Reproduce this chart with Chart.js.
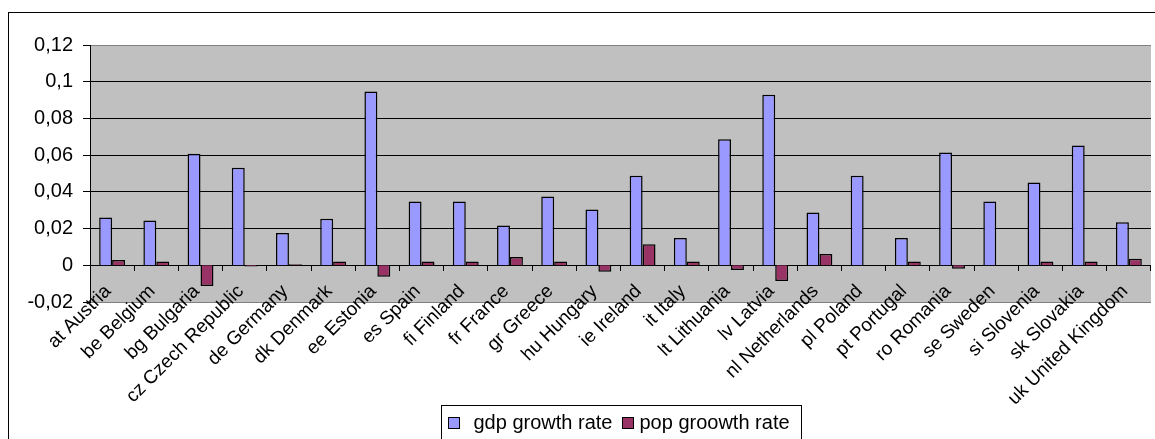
<!DOCTYPE html>
<html>
<head>
<meta charset="utf-8">
<script src="https://cdn.jsdelivr.net/npm/chart.js@4/dist/chart.umd.min.js"></script>
<style>
  html, body { margin: 0; padding: 0; background: #fff; }
  #wrap { width: 1155px; height: 439px; position: relative; }
</style>
</head>
<body>
<div id="wrap"><canvas id="c"></canvas></div>
<script>
// Countries along the category axis
const categories = [
  'at Austria', 'be Belgium', 'bg Bulgaria', 'cz Czech Republic', 'de Germany',
  'dk Denmark', 'ee Estonia', 'es Spain', 'fi Finland', 'fr France',
  'gr Greece', 'hu Hungary', 'ie Ireland', 'it Italy', 'lt Lithuania',
  'lv Latvia', 'nl Netherlands', 'pl Poland', 'pt Portugal', 'ro Romania',
  'se Sweden', 'si Slovenia', 'sk Slovakia', 'uk United Kingdom'
];

// Annual GDP growth rate per country
const gdpGrowth = [
  0.026, 0.0244, 0.0608, 0.0532, 0.0176,
  0.0253, 0.0947, 0.0348, 0.0348, 0.0217,
  0.0375, 0.0304, 0.0488, 0.0148, 0.0686,
  0.0929, 0.0287, 0.0488, 0.0148, 0.0615,
  0.0348, 0.0451, 0.0652, 0.0235
];

// Annual population growth rate per country
const popGrowth = [
  0.0029, 0.002, -0.0113, -0.0007, 0.0006,
  0.002, -0.0062, 0.002, 0.002, 0.0045,
  0.002, -0.0035, 0.0115, 0.002, -0.0026,
  -0.0086, 0.0062, 0, 0.002, -0.0019,
  0, 0.002, 0.002, 0.0036
];

const seriesNames = ['gdp growth rate', 'pop groowth rate'];

// Value axis labels, bottom to top, with decimal commas
const yTickLabels = ['-0,02', '0', '0,02', '0,04', '0,06', '0,08', '0,1', '0,12'];

const FONT = "'Liberation Sans', Arial, sans-serif";
const GDP_COLOR = '#9999FF';
const POP_COLOR = '#993366';

// Page frame, grey plot background and a framed legend at the bottom
const framePlugin = {
  id: 'frame',
  beforeDraw(chart) {
    const ctx = chart.ctx;
    const a = chart.chartArea;
    ctx.save();
    ctx.fillStyle = '#ffffff';
    ctx.fillRect(0, 0, chart.width, chart.height);
    ctx.strokeStyle = '#000000';
    ctx.lineWidth = 1;
    ctx.strokeRect(8.5, 12.5, 3000, 3000);
    ctx.fillStyle = '#C0C0C0';
    ctx.fillRect(a.left, a.top, a.right - a.left, a.bottom - a.top);
    ctx.restore();
  },
  afterDraw(chart) {
    const ctx = chart.ctx;
    ctx.save();
    // legend frame
    ctx.strokeStyle = '#000000';
    ctx.lineWidth = 1;
    ctx.strokeRect(441.5, 405.5, 360, 60);
    ctx.font = '20px ' + FONT;
    ctx.textBaseline = 'middle';
    ctx.textAlign = 'left';
    let x = 448.5;
    const yMid = 423.5;
    chart.data.datasets.forEach((ds, i) => {
      ctx.fillStyle = ds.backgroundColor;
      ctx.fillRect(x, yMid - 6, 11, 11);
      ctx.strokeStyle = '#000000';
      ctx.strokeRect(x, yMid - 6, 11, 11);
      const tx = x + (i === 0 ? 25 : 17);
      ctx.fillStyle = '#000000';
      ctx.fillText(ds.label, tx, yMid);
      x = tx + ctx.measureText(ds.label).width + 10;
    });
    ctx.restore();
  }
};

new Chart(document.getElementById('c'), {
  type: 'bar',
  data: {
    labels: categories,
    datasets: [
      {
        label: seriesNames[0],
        data: gdpGrowth,
        backgroundColor: GDP_COLOR,
        borderColor: '#000000',
        borderWidth: 1.5,
        categoryPercentage: 0.585,
        barPercentage: 1.0
      },
      {
        label: seriesNames[1],
        data: popGrowth,
        backgroundColor: POP_COLOR,
        borderColor: '#000000',
        borderWidth: 1.5,
        categoryPercentage: 0.585,
        barPercentage: 1.0
      }
    ]
  },
  options: {
    responsive: true,
    maintainAspectRatio: false,
    animation: false,
    devicePixelRatio: 1,
    layout: { padding: { left: 0, right: 0, top: 45, bottom: 137 } },
    plugins: {
      legend: { display: false },
      tooltip: { enabled: false }
    },
    scales: {
      x: {
        position: { y: 0 },
        afterFit(scale) { scale.height = 0; },
        grid: {
          offset: true,
          drawOnChartArea: false,
          drawTicks: true,
          tickLength: 5,
          color: '#000000'
        },
        border: { display: true, color: '#000000', width: 1 },
        ticks: {
          autoSkip: false,
          maxRotation: 45,
          minRotation: 45,
          padding: 10,
          labelOffset: -4,
          color: '#000000',
          font: { family: FONT, size: 19 }
        }
      },
      y: {
        min: -0.02,
        max: 0.12,
        afterFit(scale) { scale.width = 90; },
        grid: {
          drawTicks: true,
          tickLength: 7,
          color: (c) => (c.tick && (c.tick.value > 0.119 || c.tick.value < -0.019)) ? '#808080' : '#000000',
          tickColor: '#000000'
        },
        border: { display: true, color: '#000000', width: 1 },
        ticks: {
          stepSize: 0.02,
          padding: 10,
          color: '#000000',
          font: { family: FONT, size: 20 },
          callback: (v, i) => yTickLabels[i]
        }
      }
    }
  },
  plugins: [framePlugin]
});
</script>
</body>
</html>
